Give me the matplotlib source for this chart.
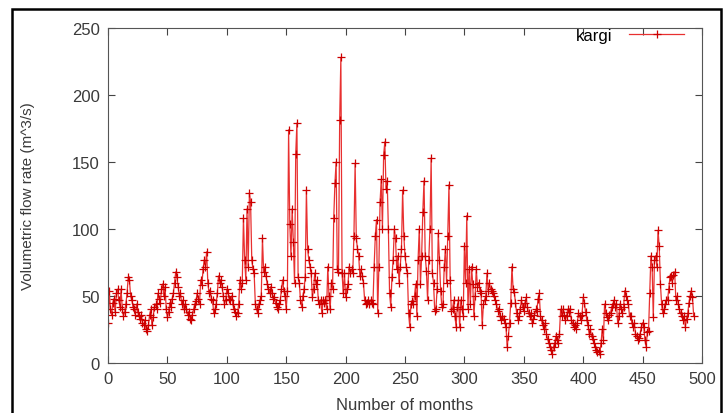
import numpy as np
import matplotlib.pyplot as plt
from matplotlib.patches import Rectangle

plt.rcParams['font.family'] = ['Liberation Sans', 'DejaVu Sans']

# monthly flow, kargi station (m^3/s)
kargi = [
    30, 54, 40, 36, 45, 48, 38, 52, 55, 47, 42, 55, 40, 35, 38, 44, 52, 64, 62, 50,
    47, 42, 40, 36, 44, 38, 35, 33, 36, 30, 28, 32, 25, 24, 28, 36, 40, 28, 34, 42,
    44, 40, 52, 48, 45, 55, 59, 50, 57, 40, 34, 38, 45, 42, 48, 52, 60, 68, 64, 57,
    50, 52, 44, 47, 40, 44, 40, 36, 38, 33, 32, 36, 40, 44, 46, 52, 48, 44, 62, 58,
    70, 77, 72, 83, 60, 52, 54, 48, 47, 37, 40, 44, 52, 65, 60, 62, 57, 50, 44, 47,
    55, 52, 48, 47, 50, 44, 40, 38, 35, 37, 44, 62, 55, 60, 108, 77, 62, 115, 72, 127,
    120, 77, 70, 67, 44, 40, 37, 44, 47, 50, 93, 68, 72, 65, 59, 55, 52, 57, 52, 48,
    49, 45, 42, 40, 44, 47, 55, 62, 54, 50, 40, 54, 174, 104, 80, 115, 90, 60, 156, 179,
    64, 60, 47, 42, 50, 55, 64, 129, 85, 77, 72, 67, 49, 55, 67, 59, 62, 47, 44, 47,
    37, 47, 45, 47, 40, 72, 50, 40, 60, 55, 108, 134, 150, 70, 68, 181, 228, 67, 52, 67,
    49, 55, 59, 72, 67, 70, 67, 95, 149, 93, 85, 80, 65, 70, 65, 60, 47, 44, 45, 47,
    44, 47, 45, 44, 72, 95, 107, 37, 72, 120, 137, 100, 155, 165, 130, 136, 100, 52, 42, 64,
    77, 100, 93, 70, 80, 60, 72, 85, 129, 95, 80, 72, 67, 37, 27, 44, 46, 44, 50, 59,
    35, 77, 100, 59, 80, 113, 136, 80, 69, 47, 77, 100, 153, 67, 60, 39, 40, 55, 97, 77,
    54, 42, 44, 72, 85, 60, 95, 133, 62, 39, 40, 47, 35, 27, 42, 47, 27, 47, 40, 35,
    87, 60, 110, 40, 70, 44, 72, 59, 35, 50, 70, 57, 60, 54, 52, 28, 44, 47, 50, 67,
    54, 60, 55, 54, 52, 50, 47, 44, 39, 40, 35, 32, 35, 33, 30, 27, 12, 20, 30, 45,
    72, 55, 53, 45, 37, 32, 35, 40, 47, 42, 39, 45, 49, 42, 37, 35, 37, 30, 33, 36,
    40, 39, 48, 52, 35, 32, 28, 25, 30, 22, 18, 15, 12, 10, 7, 12, 15, 20, 17, 15,
    22, 40, 35, 40, 36, 32, 35, 40, 38, 40, 32, 30, 27, 28, 25, 30, 37, 35, 32, 36,
    49, 45, 38, 32, 28, 22, 25, 20, 18, 15, 12, 10, 8, 9, 7, 15, 25, 17, 44, 37,
    34, 32, 36, 37, 42, 44, 47, 42, 44, 30, 35, 44, 40, 37, 42, 54, 50, 47, 44, 35,
    35, 30, 27, 30, 22, 20, 17, 19, 22, 27, 30, 27, 17, 12, 23, 24, 52, 80, 72, 34,
    77, 80, 72, 99, 87, 59, 44, 37, 40, 44, 47, 47, 55, 64, 65, 60, 66, 68, 47, 50,
    44, 40, 37, 35, 32, 35, 27, 33, 37, 45, 50, 54, 49, 35,
]
months = np.arange(len(kargi))

x_ticks = [0, 50, 100, 150, 200, 250, 300, 350, 400, 450, 500]
y_ticks = [0, 50, 100, 150, 200, 250]

fig = plt.figure(figsize=(7.27, 4.14), dpi=100)
ax = fig.add_axes([0.1486, 0.1208, 0.8170, 0.8092])

ax.plot(months, kargi, color='#e83030', lw=0.9, marker='+', ms=6,
        mew=0.9, mec='#cc0000', label='kargi')

ax.set_xlim(0, 500)
ax.set_ylim(0, 250)
ax.set_xticks(x_ticks)
ax.set_yticks(y_ticks)
ax.tick_params(direction='in', length=5, width=0.8, top=True, right=True,
               labelsize=12, labelcolor='#3a3a3a', color='#444444', pad=6)
for s in ax.spines.values():
    s.set_color('#555555')
    s.set_linewidth(0.8)

ax.set_xlabel('Number of months', fontsize=12, color='#3a3a3a', labelpad=8)
ax.set_ylabel('Volumetric flow rate (m^3/s)', fontsize=11, color='#3a3a3a')
ax.yaxis.set_label_coords(-0.123, 0.5)

ax.legend(loc='upper right', bbox_to_anchor=(0.99, 1.035), frameon=False,
          markerfirst=False, numpoints=1, handlelength=3.3, handletextpad=1.0,
          fontsize=12, borderaxespad=0.3)

# black border round the whole figure
fig.patches.append(Rectangle((12 / 727, -0.02), 709 / 727, 1.02 - 10 / 414,
                             transform=fig.transFigure, fill=False,
                             edgecolor='black', lw=1.8))

plt.savefig('out.png', dpi=100)
